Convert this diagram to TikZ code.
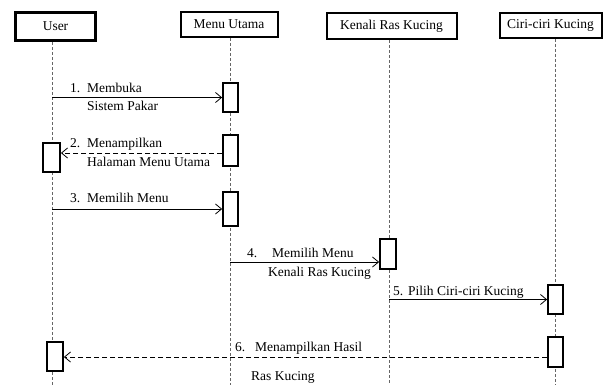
\documentclass[tikz,border=0pt]{standalone}
\usepackage{fontspec}
\setmainfont{Liberation Serif}
\newfontfamily\diagfont{Liberation Serif}
\usetikzlibrary{arrows.meta}

\begin{document}
\begin{tikzpicture}[x=1pt,y=-1pt,
  txt/.style={font=\diagfont\fontsize{13.5}{16}\selectfont},
  actor/.style={draw, line width=2pt, inner sep=0pt, txt},
  act/.style={draw, line width=1.8pt, fill=white, inner sep=0pt},
  life/.style={draw=black!60, line width=0.8pt, dash pattern=on 3pt off 2pt},
  msg/.style={line width=0.8pt, -{Straight Barb[length=6pt,width=10pt]}},
  reply/.style={msg, dash pattern=on 5pt off 3pt},
  lbl/.style={txt, anchor=base west, inner sep=0pt}]
\useasboundingbox (0,0) rectangle (613,385);

% participants
\node[actor, line width=2.6pt, minimum width=80pt, minimum height=28pt] (user) at (55.5,26.5) {User};
\node[actor, minimum width=97pt, minimum height=25pt] (menu) at (229,24.5) {Menu Utama};
\node[actor, minimum width=130pt, minimum height=26pt] (kenali) at (391.5,26) {Kenali Ras Kucing};
\node[actor, minimum width=102pt, minimum height=25pt] (ciri) at (550.5,25.5) {Ciri-ciri Kucing};

% lifelines
\coordinate (uLine) at (52,385);
\coordinate (mLine) at (230,385);
\coordinate (kLine) at (389,385);
\coordinate (cLine) at (555,385);
\draw[life] (user.south -| uLine) -- (uLine);
\draw[life] (menu.south -| mLine) -- (mLine);
\draw[life] (kenali.south -| kLine) -- (kLine);
\draw[life] (ciri.south -| cLine) -- (cLine);

% activation bars
\node[act, minimum width=15pt, minimum height=29pt] (m1) at (230.5,97.5) {};
\node[act, minimum width=17pt, minimum height=29pt] (u1) at (51.5,157.5) {};
\node[act, minimum width=15pt, minimum height=31pt] (m2) at (230.5,150.5) {};
\node[act, minimum width=15pt, minimum height=34pt] (m3) at (230.5,209) {};
\node[act, minimum width=16pt, minimum height=30pt] (k1) at (388,254) {};
\node[act, minimum width=15pt, minimum height=29pt] (c1) at (555.5,299.5) {};
\node[act, minimum width=15pt, minimum height=30pt] (c2) at (555.5,352) {};
\node[act, minimum width=16pt, minimum height=29pt] (u2) at (55,356.5) {};

% message levels
\coordinate (a2) at (0,153);
\coordinate (a4) at (0,262);
\coordinate (a6) at (0,357);

% messages
\draw[msg] (m1.west -| uLine) -- (m1.west);
\draw[reply] (m2.west |- a2) -- (u1.east |- a2);
\draw[msg] (m3.west -| uLine) -- (m3.west);
\draw[msg] (mLine |- a4) -- (k1.west |- a4);
\draw[msg] (c1.west -| kLine) -- (c1.west);
\draw[reply] (c2.west |- a6) -- (u2.east |- a6);

% message labels
\node[lbl] (l1a) at (70,93) {\makebox[17pt][l]{1.}Membuka};
\node[lbl] (l1b) at (87,111) {Sistem Pakar};
\node[lbl] (l2a) at (70,147) {\makebox[17pt][l]{2.}Menampilkan};
\node[lbl] (l2b) at (87,166) {Halaman Menu Utama};
\node[lbl] (l3) at (70,202) {\makebox[17pt][l]{3.}Memilih Menu};
\node[lbl] (l4a) at (247,257) {\makebox[25pt][l]{4.}Memilih Menu};
\node[lbl] (l4b) at (268,276) {Kenali Ras Kucing};
\node[lbl] (l5) at (393,295) {\makebox[15pt][l]{5.}Pilih Ciri-ciri Kucing};
\node[lbl] (l6a) at (235,351) {\makebox[20pt][l]{6.}Menampilkan Hasil};
\node[lbl] (l6b) at (251,380) {Ras Kucing};
\end{tikzpicture}
\end{document}
